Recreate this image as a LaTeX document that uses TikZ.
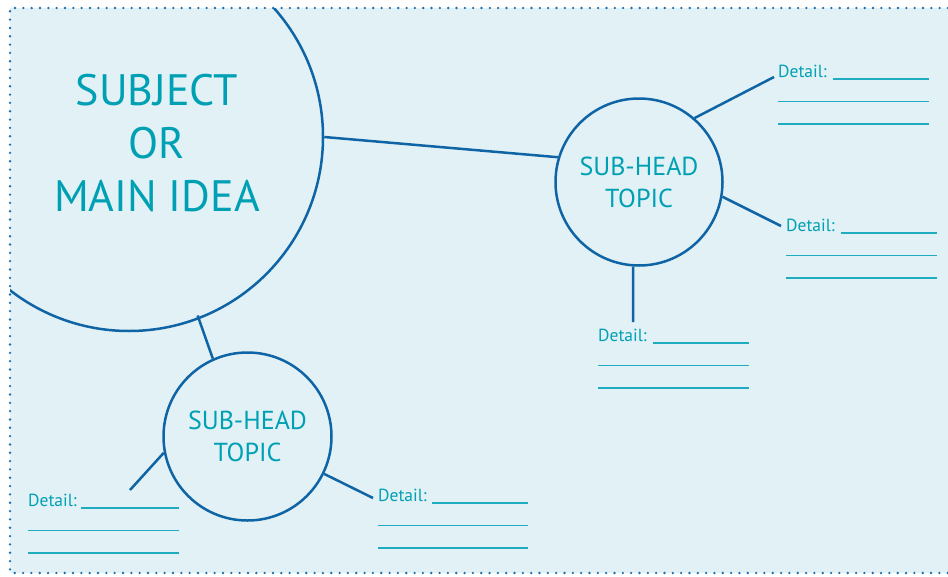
\documentclass[tikz,border=0pt]{standalone}
\usepackage{fontspec}
\setmainfont{PT Sans}
\definecolor{bgc}{HTML}{E1F1F5}
\definecolor{blu}{HTML}{0F64A5}
\definecolor{teal}{HTML}{00A0B4}
\definecolor{dln}{HTML}{1FABC0}
\definecolor{dotc}{HTML}{1D6FB0}
\newcommand\dblock[5]{%
  \node[dtxt, anchor=base west] (#1) at (#2,#3-1.5) {Detail:};
  \draw[dline] (#4,#3) -- (#5,#3);
  \draw[dline] (#2,#3+22.5) -- (#5,#3+22.5);
  \draw[dline] (#2,#3+45) -- (#5,#3+45);
}
\begin{document}
\begin{tikzpicture}[x=1pt,y=-1pt,
  circ/.style={circle, draw=blu, line width=2.5pt, inner sep=0pt},
  subtxt/.style={text=teal, align=center, font=\fontsize{26}{32}\selectfont},
  title/.style={text=teal, align=center, font=\fontsize{44}{53}\selectfont},
  conn/.style={draw=blu, line width=2.5pt},
  dtxt/.style={text=teal, inner sep=0pt, font=\fontsize{17.5}{22}\selectfont},
  dline/.style={draw=dln, line width=1.6pt},
  border/.style={draw=dotc, line width=2.6pt, line cap=round, dash pattern=on 0pt off 8.33pt}]
\useasboundingbox (0,0) rectangle (948,576);
\fill[bgc] (10,8) rectangle (948,573);
\begin{scope}
  \clip (10,8) rectangle (948,573);
  \node[circ, minimum size=388pt] (big) at (129,137) {};
\end{scope}
\draw[border] (948,8) -- (10,8) -- (10,573) -- (948,573);
\node[title] (ttl) at (157,143.5) {SUBJECT\\OR\\MAIN IDEA};
\node[circ, subtxt, minimum size=167pt] (sr) at (639,182) {SUB-HEAD\\TOPIC};
\node[circ, subtxt, minimum size=168pt] (sl) at (247.5,436.5) {SUB-HEAD\\TOPIC};
% connectors
\draw[conn] (big.0) -- (sr.163.7);
\draw[conn, shorten <=-4pt] (big.-69) -- (sl.114);
\coordinate (e1) at (774,77);
\coordinate (e2) at (781,226);
\coordinate (e3) at (633,322);
\coordinate (e4) at (130,490);
\coordinate (e5) at (373,498);
\draw[conn] (sr.49) -- (e1);
\draw[conn] (sr.-10) -- (e2);
\draw[conn] (sr.266) -- (e3);
\draw[conn] (sl.191) -- (e4);
\draw[conn] (sl.-26) -- (e5);
% details
\dblock{dtr}{778}{79}{833}{929}
\dblock{dr}{786}{233}{841}{937}
\dblock{dm}{598}{343}{653}{749}
\dblock{dbl}{28}{508}{81}{179}
\dblock{dbr}{378}{503}{432}{528}
\end{tikzpicture}
\end{document}
